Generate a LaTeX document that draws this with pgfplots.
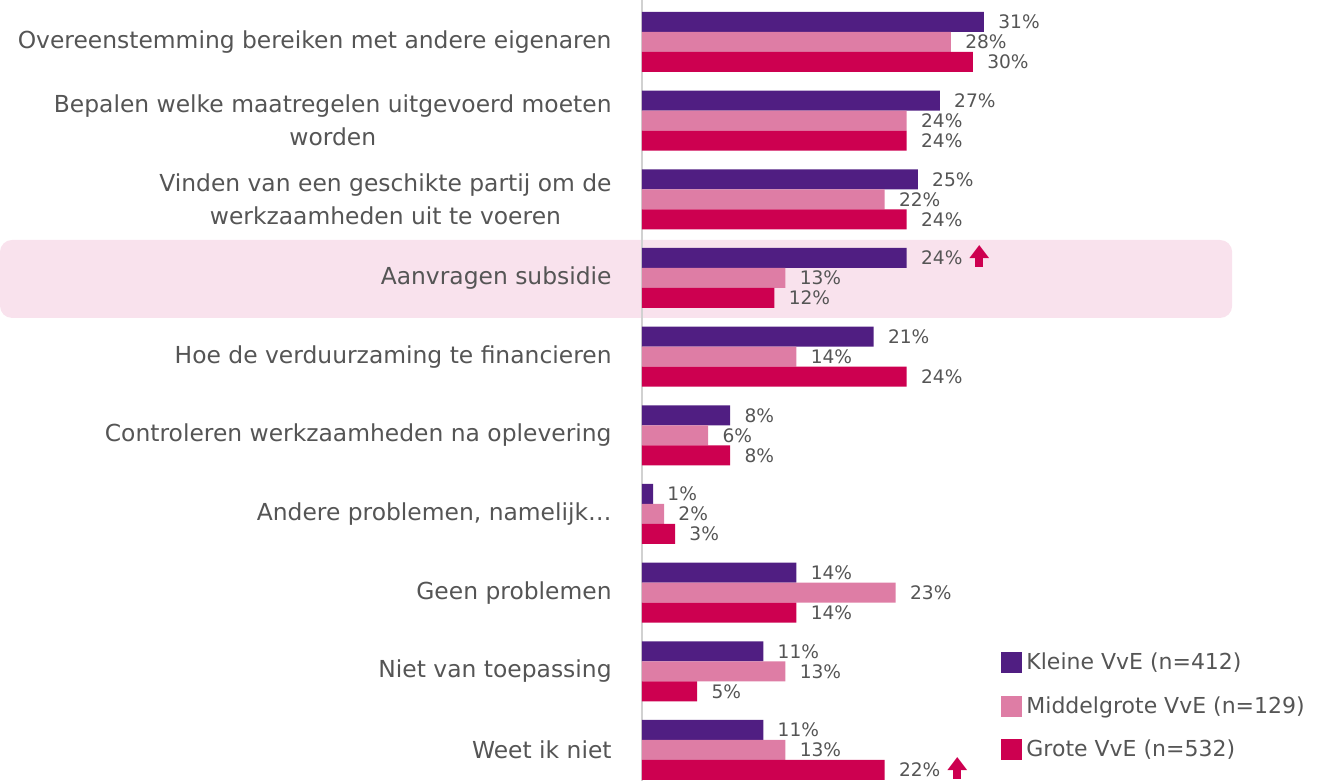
\documentclass[border=0pt]{standalone}
\usepackage{pgfplots}
\pgfplotsset{compat=1.18}
\usepackage{pgfplotstable}
\usepackage{graphicx}
\usepackage{fontspec}
\setmainfont{DejaVu Sans}
\newfontfamily\symfont{DejaVu Sans}
\definecolor{kpurple}{RGB}{80,30,130}
\definecolor{kpink}{RGB}{222,125,165}
\definecolor{kcrim}{RGB}{205,0,80}
\definecolor{bandc}{RGB}{249,226,237}
\definecolor{txt}{RGB}{85,85,85}
\newcommand\up{\hspace{3.5pt}\textcolor{kcrim}{\ooalign{\hfil\rule[-1pt]{4pt}{5.5pt}\hfil\cr\raisebox{4pt}{\resizebox{10pt}{5.5pt}{\symfont ▲}}\cr}}}

\pgfplotstableread{
x y lab
31 0 31\%
27 1 27\%
25 2 25\%
24 3 24\%\up
21 4 21\%
8 5 8\%
1 6 1\%
14 7 14\%
11 8 11\%
11 9 11\%
}\kleine
\pgfplotstableread{
x y lab
28 0 28\%
24 1 24\%
22 2 22\%
13 3 13\%
14 4 14\%
6 5 6\%
2 6 2\%
23 7 23\%
13 8 13\%
13 9 13\%
}\middel
\pgfplotstableread{
x y lab
30 0 30\%
24 1 24\%
24 2 24\%
12 3 12\%
24 4 24\%
8 5 8\%
3 6 3\%
14 7 14\%
5 8 5\%
22 9 22\%\up
}\grote

\begin{document}
\begin{tikzpicture}
\begin{axis}[
  name=ax, set layers, scale only axis,
  width=343.5pt, height=390.5pt,
  xmin=0, xmax=62.28, ymin=-0.534, ymax=9.394,
  y dir=reverse,
  xbar, bar width=10pt,
  legend image code/.code={\fill[#1] (0pt,-5.25pt) rectangle (10.5pt,5.25pt);},
  axis line style={draw=none},
  xtick=\empty,
  ytick={0,...,9},
  yticklabels={
    Overeenstemming bereiken met andere eigenaren,
    {Bepalen welke maatregelen uitgevoerd moeten\\worden},
    {Vinden van een geschikte partij om de\\werkzaamheden uit te voeren},
    Aanvragen subsidie,
    Hoe de verduurzaming te financieren,
    Controleren werkzaamheden na oplevering,
    Andere problemen{,} namelijk…,
    Geen problemen,
    Niet van toepassing,
    Weet ik niet},
  major tick length=0pt,
  yticklabel style={font=\fontsize{11.7pt}{16.5pt}\selectfont, text=txt, align=center, inner sep=0pt, xshift=-15pt},
  clip=false,
  nodes near coords,
  point meta=explicit symbolic,
  every node near coord/.append style={font=\fontsize{9.3pt}{10pt}\selectfont, text=txt, anchor=west, inner sep=0pt, xshift=7pt},
  legend style={at={(0.5226,0.170)}, anchor=north west, draw=none, fill=none,
    font=\fontsize{11pt}{13pt}\selectfont, text=txt, row sep=8pt, inner sep=0pt,
    cells={anchor=west}},
]
\begin{pgfonlayer}{axis background}
\fill[bandc, rounded corners=6pt] (axis cs:-58.2,2.517) rectangle (axis cs:53.5,3.508);
\draw[black!18, line width=0.6pt] (rel axis cs:0,0) -- (rel axis cs:0,1);
\end{pgfonlayer}
\addplot[fill=kpurple, draw=none, bar shift=10pt] table[x=x, y=y, meta=lab] {\kleine};
\addlegendentry{Kleine VvE (n=412)}
\addplot[fill=kpink, draw=none, bar shift=0pt] table[x=x, y=y, meta=lab] {\middel};
\addlegendentry{Middelgrote VvE (n=129)}
\addplot[fill=kcrim, draw=none, bar shift=-10pt] table[x=x, y=y, meta=lab] {\grote};
\addlegendentry{Grote VvE (n=532)}
\end{axis}
\pgfresetboundingbox
\path ([xshift=-321pt]ax.south west) rectangle (ax.north east);
\end{tikzpicture}
\end{document}
